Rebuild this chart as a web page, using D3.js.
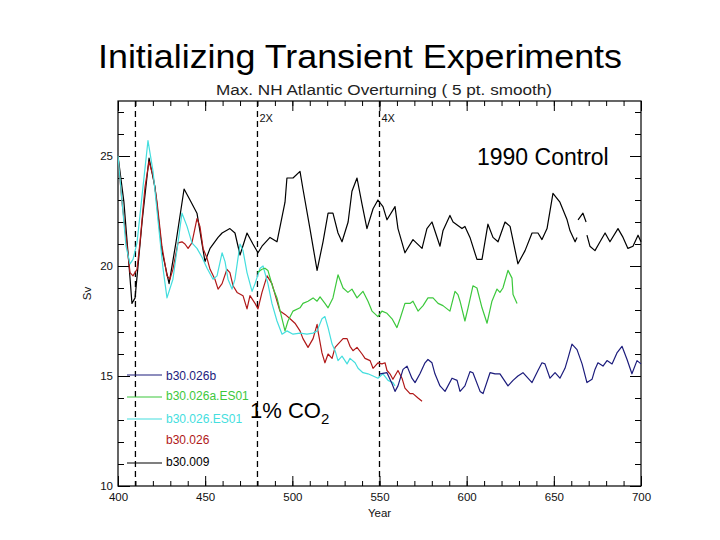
<!DOCTYPE html>
<html><head><meta charset="utf-8">
<script src="https://cdn.jsdelivr.net/npm/d3@7"></script>
<style>body{margin:0;background:#fff}svg{display:block}</style>
</head><body><svg id="chart" width="720" height="540"></svg>
<script>
// ---- data ----
const xMajorTicks = [400, 450, 500, 550, 600, 650, 700];
const xMinorTicks = d3.range(400, 701, 10);
const yMajorTicks = [10, 15, 20, 25];
const yMinorTicks = d3.range(10, 28, 1);
const forcingYears = [410, 480, 550];
const forcingLabels = ["", "2X", "4X"];
const seriesNames = ["b30.026b", "b30.026a.ES01", "b30.026.ES01", "b30.026", "b30.009"];
const seriesColors = ["#1c1c7c", "#3cc83c", "#44dede", "#b01818", "#000000"];

const b30_009 = [[400,25.0],[403.4,22.9],[406.9,19.45],[408,18.3],[409.8,18.55],[413.8,22.0],[417.8,24.9],[421.2,23.6],[425.2,20.7],[429.3,19.2],[433.3,21.1],[437.9,23.5],[441.3,23.0],[445.3,22.4],[449.9,20.2],[452.8,20.8],[457.4,21.3],[459.7,21.5],[464.2,21.7],[467.1,21.5],[470,20.5],[474,21.5],[477.4,21.0],[480.3,20.6],[482.6,20.9],[487.2,21.3],[491.2,21.1],[495.8,22.9],[496.9,24.0],[500.4,24.0],[504.4,24.3],[506.1,23.5],[510.1,21.7],[514.2,19.8],[517.6,21.1],[520.5,22.4],[523.3,22.4],[526.2,21.5],[528.5,21.1],[532,22.0],[534.2,23.4],[537.1,24.0],[540,22.8],[542.8,21.7],[546.3,22.6],[549.1,23.0],[552,22.7],[554.3,22.1],[558.9,22.7],[560.6,21.7],[564.6,20.6],[569.2,21.2],[574.4,20.8],[577.2,21.7],[580.1,22.0],[584.7,20.9],[586.4,21.6],[590.4,22.3],[592.2,22.0],[597.3,21.7],[599,21.8],[601.9,21.3],[605.9,20.3],[608.8,20.3],[612.2,21.9],[615.1,21.3],[618,21.1],[622,22.0],[624.9,21.8],[629.4,20.1],[633.5,20.7],[637.5,21.5],[640.9,21.5],[643.2,21.2],[646.1,21.7],[649.5,23.3],[653.5,22.9],[657.6,22.1],[659.3,21.6],[662.2,21.1],[663.3,21.3],null,[663.9,22.1],[666.7,22.4],[668.5,22.0],null,[669,21.4],[670.7,20.9],[673.6,20.7],[676.5,21.1],[679.4,21.5],[682.2,21.1],[686.8,21.7],[689.7,21.3],[692.5,20.8],[695.4,20.9],[698.3,21.4],[700,21.1]];

const b30_026 = [[400,25.0],[402.3,22.9],[405.2,20.9],[406.9,19.7],[408.6,19.55],[410.9,19.85],[412.6,21.05],[415.5,23.6],[417.8,24.75],[420.1,24.1],[422.4,22.9],[425.2,20.9],[428.1,19.55],[429.8,19.4],[431.5,19.85],[434.4,21.05],[436.7,21.1],[438.4,21.0],[440.2,20.8],[442.4,21.05],[445.3,22.15],[447,21.8],[448.8,20.8],[451.1,20.35],[452.8,19.85],[455.6,19.4],[457.4,18.95],[459.7,19.2],[462.5,19.85],[464.2,19.7],[466,19.1],[468.3,18.8],[471.7,18.65],[474,18.05],[475.7,18.65],[478.6,18.3],[480.3,18.05],[482.6,18.8],[485.5,19.55],[488.3,19.2],[491.2,18.4],[492.9,17.95],[495.8,17.8],[498.7,17.6],[501.5,17.4],[504.4,17.05],[506.1,16.7],[509,16.3],[511.9,16.7],[514.2,17.35],[514.7,17.05],[517,16.05],[518.7,15.6],[520.5,16.0],[522.8,15.8],[524.5,16.3],[526.2,16.45],[529.1,16.7],[531.4,16.7],[533.1,16.35],[534.8,16.15],[537.1,16.3],[540,16.0],[541.7,15.8],[544.6,15.7],[546.3,15.35],[549.1,15.6],[551.4,15.55],[553.2,15.6],[554.3,15.25],[556,15.1],[557.7,14.85],[560.6,15.25],[562.9,14.9],[564.6,14.45],[567.5,14.2],[569.2,14.2],[572.1,14.0],[574.4,13.85]];

const b30_026_ES01 = [[400,25.0],[402.3,22.95],[404.6,20.9],[406.9,20.1],[408.6,20.3],[410.9,21.05],[413.8,23.2],[417.2,25.7],[420.1,24.3],[422.9,22.1],[425.8,19.9],[428.1,18.55],[431.5,19.4],[434.4,21.05],[436.7,22.4],[439.6,21.8],[442.4,21.05],[445.3,20.8],[448.2,20.4],[451.1,19.9],[454.5,19.4],[456.8,19.55],[459.7,20.6],[461.4,20.2],[463.1,19.4],[465.4,18.95],[467.1,19.4],[470,21.0],[471.7,20.7],[474,19.7],[476.9,18.85],[478.6,19.2],[481.5,19.9],[483.2,20.0],[486,19.2],[488.3,18.3],[491.2,17.5],[494.1,16.9],[496.9,17.05],[500.4,16.9],[504.4,16.95],[508.4,16.9],[511.9,16.95],[514.2,17.05],[517,17.6],[518.7,17.7],[520.5,17.2],[522.8,16.45],[524.5,16.15],[526.2,15.7],[528.5,15.9],[531.4,15.55],[533.1,15.8],[536,15.6],[537.7,15.35],[540.5,15.15],[543.4,15.1],[546.3,15.0],[549.1,14.9],[552,15.1],[554.9,14.8],[557.7,14.7],[558.9,14.55]];

const b30_026a_ES01 = [[480,19.7],[482.6,19.85],[484.3,19.9],[486,19.8],[488.9,19.0],[491.2,18.55],[494.1,17.6],[495.8,17.05],[497.5,17.5],[500.4,17.95],[504.4,18.1],[506.1,18.3],[509,18.4],[511.9,18.55],[514.2,18.4],[515.9,18.6],[518.7,18.3],[520.5,18.1],[523.3,18.55],[526.2,19.6],[529.1,19.0],[531.9,18.8],[534.2,18.95],[537.1,18.55],[540.5,18.85],[543.4,18.4],[545.7,17.95],[549.1,17.7],[551.4,17.95],[554.3,17.85],[557.2,17.6],[560,17.2],[561.8,17.6],[564.6,18.3],[567.5,18.3],[569.2,18.4],[572.1,17.95],[575,18.2],[577.8,18.55],[580.7,18.55],[583.6,18.3],[586.4,18.2],[590.4,17.95],[593.3,18.85],[595,18.7],[596.2,18.4],[599,17.5],[600.8,18.1],[603.6,19.1],[605.9,19.0],[608.8,18.1],[611.7,17.4],[614.5,18.4],[617.4,18.95],[619.1,18.8],[620.8,19.0],[623.7,19.8],[626,19.45],[626.6,18.7],[628.9,18.3]];

const b30_026b = [[550.3,15.1],[554.3,15.15],[557.2,14.65],[558.9,14.3],[560.6,14.55],[563.5,15.3],[565.8,15.45],[568.6,14.9],[570.4,14.7],[573.2,15.1],[576.1,15.6],[577.8,15.75],[580.1,15.6],[581.8,15.1],[584.7,14.55],[587.6,14.3],[591.6,14.9],[594.5,14.8],[596.2,14.3],[599,14.55],[601.9,15.2],[603.6,15.15],[607.7,14.3],[609.4,14.2],[613.4,15.15],[616.3,15.1],[619.1,15.1],[623.7,14.55],[626.6,14.8],[629.4,15.0],[632.3,15.15],[637.5,14.7],[640.9,15.25],[643.2,15.6],[644.9,15.55],[647.8,14.9],[650.7,15.15],[653.5,14.9],[656.4,15.35],[658.1,15.8],[660.4,16.45],[663.3,16.2],[666.2,15.55],[669,14.7],[671.9,14.85],[673.6,15.3],[675.3,15.6],[678.2,15.45],[680.5,15.7],[683.4,15.55],[686.2,16.05],[689.1,16.35],[692,15.75],[694.8,15.1],[697.7,15.7],[700,15.55]];

const seriesData = [b30_026b, b30_026a_ES01, b30_026_ES01, b30_026, b30_009];

// ---- layout ----
const svg = d3.select("#chart");
const L = 118, R = 641, T = 101, B = 486;
const x = d3.scaleLinear().domain([400, 700]).range([L, R]);
const y = d3.scaleLinear().domain([10, 27.5]).range([B, T]);
const font = "'Liberation Sans', Arial, sans-serif";

svg.append("text").attr("x", 360).attr("y", 68).attr("text-anchor", "middle")
  .style("font-family", font).style("font-size", "34px").attr("textLength", 524)
  .attr("lengthAdjust", "spacingAndGlyphs").text("Initializing Transient Experiments");

svg.append("text").attr("x", 384).attr("y", 95).attr("text-anchor", "middle")
  .style("font-family", font).style("font-size", "14px").attr("fill", "#222")
  .attr("textLength", 336).attr("lengthAdjust", "spacingAndGlyphs")
  .text("Max. NH Atlantic Overturning ( 5 pt. smooth)");

// frame
svg.append("rect").attr("x", L).attr("y", T).attr("width", R - L).attr("height", B - T)
  .attr("fill", "none").attr("stroke", "#000").attr("stroke-width", 1.2);

function styleAxis(g) {
  g.select(".domain").remove();
  g.selectAll("line").attr("stroke", "#000");
  g.selectAll("text").style("font-family", font).style("font-size", "11.5px").attr("fill", "#111");
}
// bottom
svg.append("g").attr("transform", `translate(0,${B})`)
  .call(d3.axisBottom(x).tickValues(xMinorTicks).tickSizeInner(-5).tickSizeOuter(0).tickFormat(""))
  .call(styleAxis);
svg.append("g").attr("transform", `translate(0,${B})`)
  .call(d3.axisBottom(x).tickValues(xMajorTicks).tickSizeInner(-10).tickSizeOuter(0).tickPadding(7).tickFormat(d3.format("d")))
  .call(styleAxis);
// top
svg.append("g").attr("transform", `translate(0,${T})`)
  .call(d3.axisTop(x).tickValues(xMinorTicks).tickSizeInner(-5).tickSizeOuter(0).tickFormat(""))
  .call(styleAxis);
svg.append("g").attr("transform", `translate(0,${T})`)
  .call(d3.axisTop(x).tickValues(xMajorTicks).tickSizeInner(-10).tickSizeOuter(0).tickFormat(""))
  .call(styleAxis);
// left
svg.append("g").attr("transform", `translate(${L},0)`)
  .call(d3.axisLeft(y).tickValues(yMinorTicks).tickSizeInner(-6).tickSizeOuter(0).tickFormat(""))
  .call(styleAxis);
svg.append("g").attr("transform", `translate(${L},0)`)
  .call(d3.axisLeft(y).tickValues(yMajorTicks).tickSizeInner(-12).tickSizeOuter(0).tickPadding(5).tickFormat(d3.format("d")))
  .call(styleAxis);
// right
svg.append("g").attr("transform", `translate(${R},0)`)
  .call(d3.axisRight(y).tickValues(yMinorTicks).tickSizeInner(-6).tickSizeOuter(0).tickFormat(""))
  .call(styleAxis);
svg.append("g").attr("transform", `translate(${R},0)`)
  .call(d3.axisRight(y).tickValues(yMajorTicks).tickSizeInner(-11).tickSizeOuter(0).tickFormat(""))
  .call(styleAxis);

// axis titles
svg.append("text").attr("x", (L + R) / 2).attr("y", 517).attr("text-anchor", "middle")
  .style("font-family", font).style("font-size", "11.5px").attr("fill", "#111").text("Year");
svg.append("text").attr("transform", `translate(91,${(T + B) / 2}) rotate(-90)`).attr("text-anchor", "middle")
  .style("font-family", font).style("font-size", "11.5px").attr("fill", "#111").text("Sv");

// forcing dashed lines
const fg = svg.append("g");
forcingYears.forEach((yr, i) => {
  fg.append("line").attr("x1", x(yr)).attr("x2", x(yr)).attr("y1", T).attr("y2", B)
    .attr("stroke", "#000").attr("stroke-width", 1.3).attr("stroke-dasharray", "6,4");
  if (forcingLabels[i]) {
    fg.append("text").attr("x", x(yr) + 2).attr("y", 122)
      .style("font-family", font).style("font-size", "11px").attr("fill", "#111").text(forcingLabels[i]);
  }
});

// series lines
const line = d3.line().defined(d => d !== null).x(d => x(d[0])).y(d => y(d[1]));
const drawOrder = [4, 3, 2, 1, 0];
drawOrder.forEach(i => {
  svg.append("path").datum(seriesData[i]).attr("d", line)
    .attr("fill", "none").attr("stroke", seriesColors[i]).attr("stroke-width", 1.2)
    .attr("stroke-linejoin", "round");
});

// legend
const legendLineY = [375, 397, 419, null, 463];
const legendTextY = [377, 397, 420, 441, 463];
const lg = svg.append("g");
seriesNames.forEach((name, i) => {
  if (legendLineY[i] !== null) {
    lg.append("line").attr("x1", 127).attr("x2", 162).attr("y1", legendLineY[i]).attr("y2", legendLineY[i])
      .attr("stroke", seriesColors[i]).attr("stroke-width", 1.2);
  }
  lg.append("text").attr("x", 166).attr("y", legendTextY[i]).attr("dominant-baseline", "middle")
    .style("font-family", font).style("font-size", "12px").attr("fill", seriesColors[i]).text(name);
});

// annotations
svg.append("text").attr("x", 477).attr("y", 165)
  .style("font-family", font).style("font-size", "23px").attr("fill", "#000").text("1990 Control");
const co2 = svg.append("text").attr("x", 250).attr("y", 418)
  .style("font-family", font).style("font-size", "22px").attr("fill", "#000");
co2.append("tspan").text("1% CO");
co2.append("tspan").attr("dy", 6).style("font-size", "15px").text("2");
</script></body></html>
